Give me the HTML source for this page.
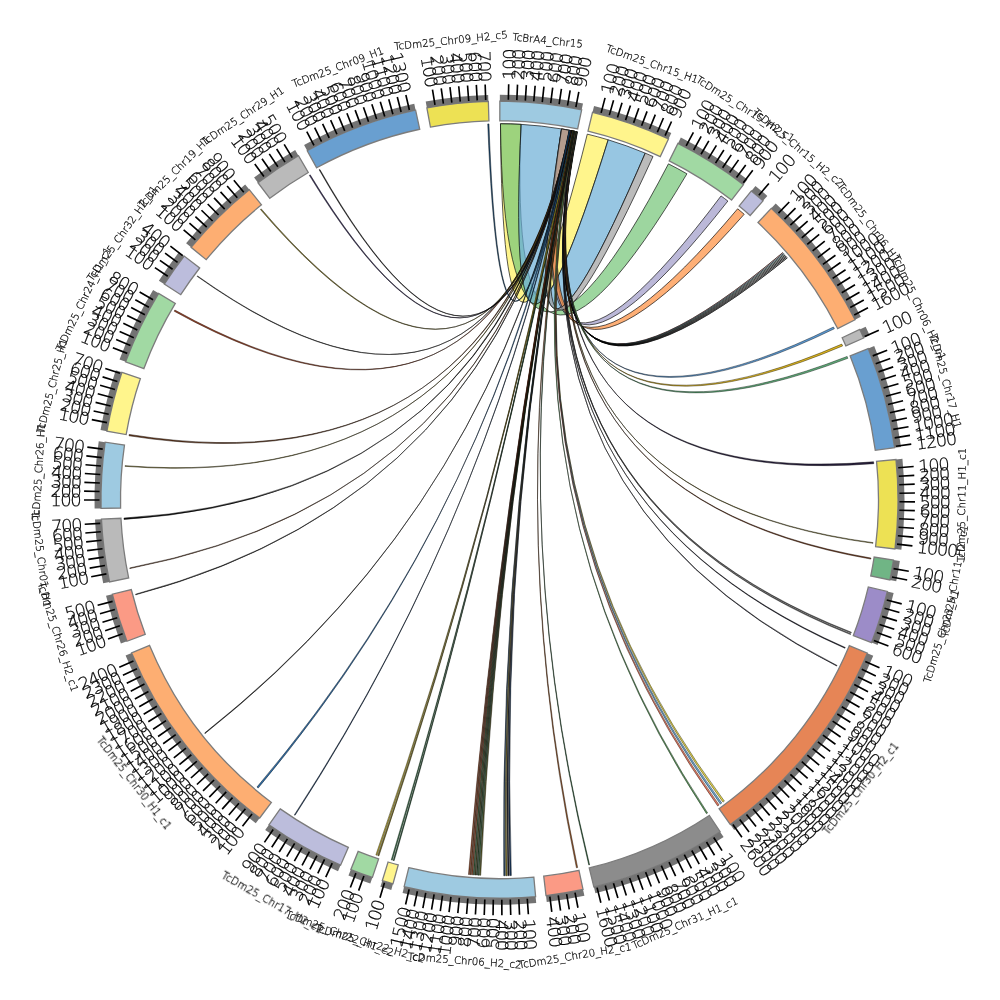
<!DOCTYPE html>
<html lang="en"><head><meta charset="utf-8"><title>Circos synteny plot</title>
<style>html,body{margin:0;padding:0;background:#fff}svg{display:block}g.t{opacity:.999;will-change:opacity}</style></head>
<body>
<svg width="1000" height="1000" viewBox="0 0 1000 1000">
<rect width="1000" height="1000" fill="#fff"/>
<g stroke="#111" stroke-width="0.7" stroke-linejoin="round">
<path d="M500.48 123.75A376 376 0 0 1 521.14 124.37Q503.73 475.86 608.18 139.8A376 376 0 0 0 587.28 134.14Q502.39 475.63 500.48 123.75Z" fill="rgba(255,241,91,0.7)"/>
<path d="M500.48 123.75A376 376 0 0 1 521.14 124.37Q505.65 479.11 686.93 173.8A376 376 0 0 0 668.44 163.84Q504.5 478.8 500.48 123.75Z" fill="rgba(116,196,118,0.7)"/>
<path d="M521.14 124.37A376 376 0 0 1 561.56 128.91Q506.26 476.41 645.21 153.13A376 376 0 0 0 608.18 139.8Q503.73 475.86 521.14 124.37Z" fill="rgba(107,174,214,0.7)"/>
<path d="M561.56 128.91A376 376 0 0 1 569.31 130.29Q508.27 480.11 727.87 201.05A376 376 0 0 0 721.04 195.95Q507.84 479.9 561.56 128.91Z" fill="rgba(158,154,200,0.7)"/>
<path d="M561.56 128.91A376 376 0 0 1 569.31 130.29Q508.52 480.96 744.19 214.26A376 376 0 0 0 737.65 208.79Q508.12 480.75 561.56 128.91Z" fill="rgba(253,141,60,0.7)"/>
<path d="M561.56 128.91A376 376 0 0 1 569.31 130.29Q506.76 476.58 653.03 156.52A376 376 0 0 0 645.21 153.13Q506.26 476.41 561.56 128.91Z" fill="rgba(158,158,158,0.7)"/>
</g>
<g stroke-width="0.5" stroke-linejoin="round">
<path d="M576.84 131.79A376 376 0 0 1 577.48 131.93Q509.32 483.04 782.9 252.65A376 376 0 0 0 782.78 252.5Q509.29 483.04 576.84 131.79Z" fill="#c0573a" stroke="#220f0a"/>
<path d="M576.7 131.76A376 376 0 0 1 577.34 131.9Q509.32 483.09 783.66 253.52A376 376 0 0 0 783.53 253.37Q509.29 483.09 576.7 131.76Z" fill="#3f7fb8" stroke="#0b1621"/>
<path d="M576.55 131.73A376 376 0 0 1 577.19 131.86Q509.32 483.14 784.41 254.39A376 376 0 0 0 784.28 254.24Q509.29 483.14 576.55 131.73Z" fill="#4f8f6f" stroke="#0e1913"/>
<path d="M576.41 131.7A376 376 0 0 1 577.05 131.83Q509.32 483.19 785.16 255.26A376 376 0 0 0 785.03 255.11Q509.3 483.19 576.41 131.7Z" fill="#555" stroke="#0f0f0f"/>
<path d="M576.26 131.67A376 376 0 0 1 576.9 131.8Q509.32 483.24 785.9 256.13A376 376 0 0 0 785.77 255.98Q509.3 483.24 576.26 131.67Z" fill="#222" stroke="#060606"/>
<path d="M576.12 131.64A376 376 0 0 1 576.76 131.77Q509.32 483.29 786.64 257.01A376 376 0 0 0 786.52 256.86Q509.3 483.29 576.12 131.64Z" fill="#222" stroke="#060606"/>
<path d="M575.97 131.61A376 376 0 0 1 576.62 131.74Q509.32 483.33 787.39 257.89A376 376 0 0 0 787.26 257.74Q509.3 483.34 575.97 131.61Z" fill="#111" stroke="#030303"/>
<path d="M575.51 131.51A376 376 0 0 1 576.79 131.78Q509.48 486.7 834.37 328.76A376 376 0 0 0 833.47 327.01Q509.44 486.64 575.51 131.51Z" fill="#5b9bd5" stroke="#101b26"/>
<path d="M575.36 131.48A376 376 0 0 1 576.65 131.75Q509.43 487.43 842.59 345.92A376 376 0 0 0 841.78 344.12Q509.38 487.37 575.36 131.48Z" fill="#e0b820" stroke="#282105"/>
<path d="M575.22 131.45A376 376 0 0 1 576.5 131.72Q509.37 487.93 847.87 358.29A376 376 0 0 0 847.13 356.47Q509.33 487.87 575.22 131.45Z" fill="#5fae7a" stroke="#111f15"/>
<path d="M575.07 131.42A376 376 0 0 1 576.36 131.69Q508.39 491.79 873.76 463.65A376 376 0 0 0 873.58 461.82Q508.37 491.74 575.07 131.42Z" fill="#2a2140" stroke="#07050b"/>
<path d="M575.25 131.46A376 376 0 0 1 575.89 131.59Q507.11 494.26 872.97 543.29A376 376 0 0 0 873.05 542.64Q507.1 494.24 575.25 131.46Z" fill="#8a7d2a" stroke="#181607"/>
<path d="M574.94 131.4A376 376 0 0 1 575.91 131.6Q506.81 494.71 870.79 559.06A376 376 0 0 0 870.95 558.08Q506.8 494.69 574.94 131.4Z" fill="#7a3a1a" stroke="#150a04"/>
<path d="M574.9 131.39A376 376 0 0 1 575.67 131.55Q505.15 496.65 851.09 633.02A376 376 0 0 0 851.37 632.29Q505.14 496.64 574.9 131.39Z" fill="#777" stroke="#151515"/>
<path d="M574.75 131.36A376 376 0 0 1 575.52 131.52Q505.1 496.69 850.5 634.56A376 376 0 0 0 850.78 633.82Q505.1 496.68 574.75 131.36Z" fill="#777" stroke="#151515"/>
<path d="M574.61 131.33A376 376 0 0 1 575.38 131.49Q504.74 497.02 844.94 648.23A376 376 0 0 0 845.25 647.51Q504.73 497.01 574.61 131.33Z" fill="#223" stroke="#060609"/>
<path d="M574.53 131.31A376 376 0 0 1 575.17 131.44Q504.24 497.43 836.72 666.05A376 376 0 0 0 837.01 665.46Q504.24 497.42 574.53 131.31Z" fill="#223" stroke="#060609"/>
<path d="M574.06 131.22A376 376 0 0 1 575.35 131.48Q499.5 499.75 723 802.12A376 376 0 0 0 724.36 801.1Q499.5 499.75 574.06 131.22Z" fill="#e8d84a" stroke="#29260d"/>
<path d="M573.92 131.19A376 376 0 0 1 575.2 131.45Q499.5 499.75 720.35 804.06A376 376 0 0 0 721.73 803.05Q499.5 499.75 573.92 131.19Z" fill="#6aaad8" stroke="#131e26"/>
<path d="M573.77 131.16A376 376 0 0 1 575.06 131.42Q499.5 499.75 717.68 805.97A376 376 0 0 0 719.07 804.98Q499.5 499.75 573.77 131.16Z" fill="#e87a60" stroke="#291511"/>
<path d="M573.63 131.13A376 376 0 0 1 574.91 131.39Q499.5 499.75 706.48 813.65A376 376 0 0 0 707.58 812.93Q499.5 499.75 573.63 131.13Z" fill="#5fa060" stroke="#111c11"/>
<path d="M573.74 131.15A376 376 0 0 1 574.51 131.31Q499.5 499.75 588.81 864.99A376 376 0 0 0 589.57 864.8Q499.5 499.75 573.74 131.15Z" fill="#2f6f3f" stroke="#08130b"/>
<path d="M573.4 131.08A376 376 0 0 1 574.56 131.32Q499.5 499.75 576.45 867.79A376 376 0 0 0 577.61 867.55Q499.5 499.75 573.4 131.08Z" fill="#a05a2a" stroke="#1c1007"/>
<path d="M573.19 131.04A376 376 0 0 1 574.48 131.3Q499.5 499.75 510 875.6A376 376 0 0 0 511.31 875.56Q499.5 499.75 573.19 131.04Z" fill="#1f3f66" stroke="#050b12"/>
<path d="M573.05 131.01A376 376 0 0 1 574.33 131.27Q499.5 499.75 507.92 875.66A376 376 0 0 0 509.23 875.62Q499.5 499.75 573.05 131.01Z" fill="#223" stroke="#060609"/>
<path d="M572.9 130.98A376 376 0 0 1 574.19 131.24Q499.5 499.75 505.84 875.7A376 376 0 0 0 507.16 875.67Q499.5 499.75 572.9 130.98Z" fill="#8a7d2a" stroke="#181607"/>
<path d="M572.76 130.96A376 376 0 0 1 574.04 131.21Q499.5 499.75 503.77 875.73A376 376 0 0 0 505.08 875.71Q499.5 499.75 572.76 130.96Z" fill="#2f4f6f" stroke="#080e13"/>
<path d="M572.74 130.95A376 376 0 0 1 573.77 131.16Q499.5 499.75 479.63 875.22A376 376 0 0 0 480.67 875.28Q499.5 499.75 572.74 130.95Z" fill="#6b6b2a" stroke="#131307"/>
<path d="M572.6 130.92A376 376 0 0 1 573.63 131.13Q499.5 499.75 478.03 875.14A376 376 0 0 0 479.08 875.2Q499.5 499.75 572.6 130.92Z" fill="#3f6f3f" stroke="#0b130b"/>
<path d="M572.45 130.89A376 376 0 0 1 573.48 131.1Q499.5 499.75 476.44 875.04A376 376 0 0 0 477.49 875.11Q499.5 499.75 572.45 130.89Z" fill="#2f4f2f" stroke="#080e08"/>
<path d="M572.31 130.87A376 376 0 0 1 573.34 131.07Q499.5 499.75 474.85 874.94A376 376 0 0 0 475.9 875.01Q499.5 499.75 572.31 130.87Z" fill="#55552a" stroke="#0f0f07"/>
<path d="M572.16 130.84A376 376 0 0 1 573.19 131.04Q499.5 499.75 473.26 874.83A376 376 0 0 0 474.31 874.91Q499.5 499.75 572.16 130.84Z" fill="#3f6f3f" stroke="#0b130b"/>
<path d="M572.02 130.81A376 376 0 0 1 573.05 131.01Q499.5 499.75 471.67 874.72A376 376 0 0 0 472.72 874.8Q499.5 499.75 572.02 130.81Z" fill="#a0522d" stroke="#1c0e08"/>
<path d="M571.87 130.78A376 376 0 0 1 572.9 130.98Q499.5 499.75 470.08 874.6A376 376 0 0 0 471.13 874.68Q499.5 499.75 571.87 130.78Z" fill="#8a4a2a" stroke="#180d07"/>
<path d="M571.73 130.75A376 376 0 0 1 572.76 130.96Q499.5 499.75 468.49 874.47A376 376 0 0 0 469.54 874.55Q499.5 499.75 571.73 130.75Z" fill="#a0522d" stroke="#1c0e08"/>
<path d="M571.61 130.73A376 376 0 0 1 572.58 130.92Q499.5 499.75 393.18 860.41A376 376 0 0 0 394.13 860.68Q499.5 499.75 571.61 130.73Z" fill="#2f5f3f" stroke="#08110b"/>
<path d="M571.47 130.7A376 376 0 0 1 572.44 130.89Q499.5 499.75 391.3 859.84A376 376 0 0 0 392.24 860.13Q499.5 499.75 571.47 130.7Z" fill="#3f7f4f" stroke="#0b160e"/>
<path d="M571.23 130.66A376 376 0 0 1 572.39 130.88Q499.5 499.75 377.77 855.5A376 376 0 0 0 378.89 855.88Q499.5 499.75 571.23 130.66Z" fill="#8a7d2a" stroke="#181607"/>
<path d="M571.08 130.63A376 376 0 0 1 572.24 130.85Q499.5 499.75 375.91 854.86A376 376 0 0 0 377.02 855.24Q499.5 499.75 571.08 130.63Z" fill="#c9b83c" stroke="#24210a"/>
<path d="M571.13 130.64A376 376 0 0 1 571.9 130.79Q499.5 499.75 294.39 814.88A376 376 0 0 0 295.05 815.3Q499.5 499.75 571.13 130.64Z" fill="#1f3f66" stroke="#050b12"/>
<path d="M570.73 130.56A376 376 0 0 1 572.02 130.81Q499.5 499.75 256.96 787.06A376 376 0 0 0 258.16 788.08Q499.5 499.75 570.73 130.56Z" fill="#2f6fa8" stroke="#08131e"/>
<path d="M570.91 130.59A376 376 0 0 1 571.55 130.72Q499.5 499.75 204.63 733.04A376 376 0 0 0 205.04 733.56Q499.5 499.75 570.91 130.59Z" fill="#222" stroke="#060606"/>
<path d="M570.76 130.56A376 376 0 0 1 571.41 130.69Q497.31 497.69 135.56 594.21A376 376 0 0 0 135.72 594.85Q497.31 497.7 570.76 130.56Z" fill="#222" stroke="#060606"/>
<path d="M570.62 130.54A376 376 0 0 1 571.26 130.66Q496.78 497.01 129.74 567.95A376 376 0 0 0 129.86 568.59Q496.78 497.01 570.62 130.54Z" fill="#6b3a1e" stroke="#130a05"/>
<path d="M570.15 130.45A376 376 0 0 1 571.44 130.7Q495.93 495.63 123.95 518.12A376 376 0 0 0 124.02 519.43Q495.92 495.64 570.15 130.45Z" fill="#111" stroke="#030303"/>
<path d="M570.33 130.48A376 376 0 0 1 570.97 130.61Q495.22 494.05 125.05 465.67A376 376 0 0 0 124.99 466.33Q495.21 494.06 570.33 130.48Z" fill="#8a7d2a" stroke="#181607"/>
<path d="M569.86 130.39A376 376 0 0 1 571.15 130.64Q494.9 493.05 129.21 434.46A376 376 0 0 0 128.99 435.75Q494.87 493.07 569.86 130.39Z" fill="#6b3a1e" stroke="#130a05"/>
<path d="M569.71 130.36A376 376 0 0 1 571 130.61Q494.4 488.49 174.86 310.05A376 376 0 0 0 174.2 311.18Q494.36 488.51 569.71 130.36Z" fill="#a0472a" stroke="#1c0c07"/>
<path d="M569.89 130.4A376 376 0 0 1 570.54 130.52Q494.54 487.01 197.41 275.89A376 376 0 0 0 197.09 276.31Q494.52 487.02 569.89 130.4Z" fill="#222" stroke="#060606"/>
<path d="M569.58 130.34A376 376 0 0 1 570.55 130.52Q495.42 483.64 261.22 208.89A376 376 0 0 0 260.46 209.51Q495.38 483.66 569.58 130.34Z" fill="#8a7d2a" stroke="#181607"/>
<path d="M569.44 130.31A376 376 0 0 1 570.41 130.5Q496.39 481.5 310.22 174.87A376 376 0 0 0 309.37 175.36Q496.34 481.51 569.44 130.31Z" fill="#3b3160" stroke="#0a0811"/>
<path d="M569.39 130.3A376 376 0 0 1 570.16 130.45Q496.6 481.1 319.86 169.44A376 376 0 0 0 319.17 169.82Q496.56 481.11 569.39 130.3Z" fill="#222" stroke="#060606"/>
<path d="M569.05 130.24A376 376 0 0 1 570.21 130.46Q501.47 475.35 488.94 123.9A376 376 0 0 0 487.76 123.93Q501.39 475.34 569.05 130.24Z" fill="#1f4e79" stroke="#050e15"/>
</g>
<g stroke="#7c7c7c" stroke-width="1.3" stroke-linejoin="miter">
<path d="M499.85 101.25A398.5 398.5 0 0 1 581.67 109.81L577.65 128.9A379 379 0 0 0 499.83 120.75Z" fill="#9ecae1"/>
<path d="M592.53 112.26A398.5 398.5 0 0 1 668.54 138.88L660.27 156.54A379 379 0 0 0 587.98 131.22Z" fill="#fff58c"/>
<path d="M677.93 143.43A398.5 398.5 0 0 1 743.47 184.66L731.53 200.08A379 379 0 0 0 669.2 160.87Z" fill="#a1d9a3"/>
<path d="M751.36 190.93A398.5 398.5 0 0 1 763.03 200.83L750.14 215.46A379 379 0 0 0 739.04 206.05Z" fill="#bcbddc"/>
<path d="M771.28 208.31A398.5 398.5 0 0 1 855.04 319.76L837.64 328.57A379 379 0 0 0 757.98 222.57Z" fill="#fdae72"/>
<path d="M859.78 329.45A398.5 398.5 0 0 1 863.69 337.98L845.87 345.9A379 379 0 0 0 842.15 337.78Z" fill="#bababa"/>
<path d="M868.2 348.54A398.5 398.5 0 0 1 894.59 447.74L875.26 450.28A379 379 0 0 0 850.15 355.94Z" fill="#699fd0"/>
<path d="M895.96 459.48A398.5 398.5 0 0 1 894.94 549.01L875.59 546.59A379 379 0 0 0 876.56 461.45Z" fill="#ede154"/>
<path d="M893.41 560.03A398.5 398.5 0 0 1 889.86 579.88L870.76 575.96A379 379 0 0 0 874.14 557.08Z" fill="#70b585"/>
<path d="M887.31 591.42A398.5 398.5 0 0 1 871.53 642.56L853.33 635.57A379 379 0 0 0 868.33 586.94Z" fill="#9c8cc8"/>
<path d="M867.27 653.21A398.5 398.5 0 0 1 730.34 824.58L719.05 808.68A379 379 0 0 0 849.27 645.7Z" fill="#e68556"/>
<path d="M720.03 831.67A398.5 398.5 0 0 1 593.88 886.91L589.26 867.97A379 379 0 0 0 709.24 815.43Z" fill="#8c8c8c"/>
<path d="M583.03 889.4A398.5 398.5 0 0 1 545.99 895.53L543.72 876.16A379 379 0 0 0 578.95 870.33Z" fill="#fb9a85"/>
<path d="M535.62 896.61A398.5 398.5 0 0 1 404.11 886.66L408.77 867.73A379 379 0 0 0 533.85 877.19Z" fill="#9ecae1"/>
<path d="M393.01 883.76A398.5 398.5 0 0 1 382.32 880.63L388.06 862A379 379 0 0 0 398.22 864.97Z" fill="#fff58c"/>
<path d="M372.39 877.44A398.5 398.5 0 0 1 350.86 869.49L358.14 851.4A379 379 0 0 0 378.61 858.95Z" fill="#a1d9a3"/>
<path d="M340.6 865.2A398.5 398.5 0 0 1 268.94 824.78L280.22 808.87A379 379 0 0 0 348.37 847.32Z" fill="#bcbddc"/>
<path d="M259.68 818.01A398.5 398.5 0 0 1 131.6 652.89L149.6 645.4A379 379 0 0 0 271.41 802.43Z" fill="#fdae72"/>
<path d="M126.97 641.26A398.5 398.5 0 0 1 112.34 594.13L131.28 589.51A379 379 0 0 0 145.2 634.34Z" fill="#fb9a85"/>
<path d="M109.56 581.92A398.5 398.5 0 0 1 101.48 519.22L120.95 518.26A379 379 0 0 0 128.65 577.9Z" fill="#bababa"/>
<path d="M101.09 508.44A398.5 398.5 0 0 1 105.17 442.22L124.47 445.04A379 379 0 0 0 120.59 508.02Z" fill="#9ecae1"/>
<path d="M106.93 431.24A398.5 398.5 0 0 1 121.93 372.32L140.4 378.55A379 379 0 0 0 126.14 434.59Z" fill="#fff58c"/>
<path d="M125.63 361.82A398.5 398.5 0 0 1 158.64 293.32L175.32 303.42A379 379 0 0 0 143.93 368.57Z" fill="#a1d9a3"/>
<path d="M164.35 284.17A398.5 398.5 0 0 1 184.2 256.06L199.63 267.98A379 379 0 0 0 180.75 294.72Z" fill="#bcbddc"/>
<path d="M191.12 247.35A398.5 398.5 0 0 1 249.26 189.62L261.5 204.8A379 379 0 0 0 206.21 259.7Z" fill="#fdae72"/>
<path d="M258.01 182.75A398.5 398.5 0 0 1 298.45 155.69L308.28 172.52A379 379 0 0 0 269.83 198.27Z" fill="#bababa"/>
<path d="M307.22 150.71A398.5 398.5 0 0 1 415.63 110.18L419.73 129.24A379 379 0 0 0 316.63 167.79Z" fill="#699fd0"/>
<path d="M426.88 107.92A398.5 398.5 0 0 1 488.37 101.41L488.92 120.9A379 379 0 0 0 430.43 127.1Z" fill="#ede154"/>
</g>
<g fill="#737373">
<path d="M499.85 94.75A405 405 0 0 1 583.01 103.45L581.67 109.81A398.5 398.5 0 0 0 499.85 101.25Z"/>
<path d="M594.05 105.94A405 405 0 0 1 671.3 132.99L668.54 138.88A398.5 398.5 0 0 0 592.53 112.26Z"/>
<path d="M680.84 137.62A405 405 0 0 1 747.45 179.52L743.47 184.66A398.5 398.5 0 0 0 677.93 143.43Z"/>
<path d="M755.47 185.9A405 405 0 0 1 767.33 195.96L763.03 200.83A398.5 398.5 0 0 0 751.36 190.93Z"/>
<path d="M775.71 203.55A405 405 0 0 1 860.84 316.83L855.04 319.76A398.5 398.5 0 0 0 771.28 208.31Z"/>
<path d="M865.65 326.67A405 405 0 0 1 869.63 335.34L863.69 337.98A398.5 398.5 0 0 0 859.78 329.45Z"/>
<path d="M874.21 346.07A405 405 0 0 1 901.04 446.89L894.59 447.74A398.5 398.5 0 0 0 868.2 348.54Z"/>
<path d="M902.43 458.82A405 405 0 0 1 901.39 549.81L894.94 549.01A398.5 398.5 0 0 0 895.96 459.48Z"/>
<path d="M899.84 561.01A405 405 0 0 1 896.23 581.19L889.86 579.88A398.5 398.5 0 0 0 893.41 560.03Z"/>
<path d="M893.64 592.92A405 405 0 0 1 877.6 644.89L871.53 642.56A398.5 398.5 0 0 0 887.31 591.42Z"/>
<path d="M873.26 655.72A405 405 0 0 1 734.11 829.88L730.34 824.58A398.5 398.5 0 0 0 867.27 653.21Z"/>
<path d="M723.62 837.08A405 405 0 0 1 595.42 893.23L593.88 886.91A398.5 398.5 0 0 0 720.03 831.67Z"/>
<path d="M584.4 895.75A405 405 0 0 1 546.75 901.98L545.99 895.53A398.5 398.5 0 0 0 583.03 889.4Z"/>
<path d="M536.21 903.08A405 405 0 0 1 402.55 892.97L404.11 886.66A398.5 398.5 0 0 0 535.62 896.61Z"/>
<path d="M391.27 890.02A405 405 0 0 1 380.41 886.85L382.32 880.63A398.5 398.5 0 0 0 393.01 883.76Z"/>
<path d="M370.32 883.6A405 405 0 0 1 348.44 875.52L350.86 869.49A398.5 398.5 0 0 0 372.39 877.44Z"/>
<path d="M338.01 871.16A405 405 0 0 1 265.18 830.08L268.94 824.78A398.5 398.5 0 0 0 340.6 865.2Z"/>
<path d="M255.76 823.2A405 405 0 0 1 125.6 655.39L131.6 652.89A398.5 398.5 0 0 0 259.68 818.01Z"/>
<path d="M120.9 643.57A405 405 0 0 1 106.02 595.67L112.34 594.13A398.5 398.5 0 0 0 126.97 641.26Z"/>
<path d="M103.2 583.26A405 405 0 0 1 94.98 519.53L101.48 519.22A398.5 398.5 0 0 0 109.56 581.92Z"/>
<path d="M94.6 508.59A405 405 0 0 1 98.74 441.29L105.17 442.22A398.5 398.5 0 0 0 101.09 508.44Z"/>
<path d="M100.53 430.12A405 405 0 0 1 115.77 370.24L121.93 372.32A398.5 398.5 0 0 0 106.93 431.24Z"/>
<path d="M119.53 359.57A405 405 0 0 1 153.08 289.95L158.64 293.32A398.5 398.5 0 0 0 125.63 361.82Z"/>
<path d="M158.88 280.66A405 405 0 0 1 179.05 252.08L184.2 256.06A398.5 398.5 0 0 0 164.35 284.17Z"/>
<path d="M186.09 243.23A405 405 0 0 1 245.17 184.56L249.26 189.62A398.5 398.5 0 0 0 191.12 247.35Z"/>
<path d="M254.07 177.58A405 405 0 0 1 295.17 150.07L298.45 155.69A398.5 398.5 0 0 0 258.01 182.75Z"/>
<path d="M304.08 145.02A405 405 0 0 1 414.26 103.82L415.63 110.18A398.5 398.5 0 0 0 307.22 150.71Z"/>
<path d="M425.69 101.53A405 405 0 0 1 488.19 94.91L488.37 101.41A398.5 398.5 0 0 0 426.88 107.92Z"/>
</g>
<path d="M508.35 99.85L508.69 84.35M516.84 100.13L517.52 84.64M525.33 100.58L526.33 85.12M533.81 101.22L535.14 85.78M542.27 102.04L543.92 86.63M550.71 103.04L552.69 87.67M559.12 104.22L561.43 88.89M567.52 105.57L570.15 90.3M575.87 107.11L578.83 91.89M601.12 112.87L605.06 97.88M609.32 115.12L613.57 100.22M617.47 117.54L622.04 102.73M625.56 120.13L630.45 105.42M633.6 122.9L638.79 108.29M641.58 125.83L647.08 111.34M649.49 128.94L655.3 114.57M657.33 132.21L663.45 117.96M665.11 135.64L671.52 121.53M686.16 145.97L693.4 132.27M693.64 150.02L701.16 136.47M701.02 154.22L708.83 140.84M708.32 158.58L716.41 145.36M715.52 163.1L723.89 150.05M722.63 167.76L731.27 154.9M729.63 172.58L738.55 159.9M736.53 177.54L745.72 165.06M743.32 182.65L752.77 170.37M758.84 195.21L768.89 183.41M778.45 213.07L789.26 201.96M784.48 219.06L795.52 208.19M790.38 225.18L801.65 214.54M796.15 231.42L807.65 221.03M801.78 237.79L813.5 227.64M807.28 244.27L819.21 234.37M812.64 250.87L824.78 241.22M817.86 257.58L830.19 248.19M822.93 264.4L835.47 255.28M827.86 271.32L840.58 262.47M832.64 278.35L845.55 269.77M837.27 285.48L850.36 277.18M841.75 292.7L855.01 284.68M846.07 300.02L859.5 292.28M850.23 307.43L863.82 299.98M854.24 314.93L867.99 307.76M864.68 336.53L878.83 330.2M872.73 355.87L887.19 350.29M875.7 363.83L890.28 358.56M878.5 371.85L893.19 366.9M881.13 379.93L895.92 375.29M883.59 388.07L898.48 383.74M885.88 396.26L900.85 392.25M887.99 404.49L903.05 400.8M889.93 412.77L905.06 409.39M891.69 421.08L906.88 418.03M893.27 429.43L908.53 426.71M894.68 437.81L909.99 435.41M895.9 446.22L911.26 444.15M898.22 467.79L913.67 466.55M898.81 476.27L914.28 475.36M899.22 484.76L914.71 484.18M899.45 493.26L914.95 493.01M899.49 501.76L914.99 501.83M899.36 510.26L914.86 510.66M899.05 518.75L914.53 519.49M898.55 527.23L914.02 528.3M897.88 535.71L913.32 537.1M897.03 544.16L912.43 545.89M893.52 568.64L908.79 571.31M891.97 577L907.18 579.99M886.73 600.02L901.73 603.91M884.51 608.23L899.43 612.43M882.12 616.38L896.95 620.9M879.55 624.48L894.28 629.32M876.82 632.53L891.44 637.68M873.91 640.52L888.42 645.97M865.29 661.6L879.47 667.87M861.77 669.33L875.81 675.91M858.09 676.99L871.98 683.86M854.24 684.57L867.99 691.74M850.23 692.07L863.82 699.52M846.07 699.48L859.5 707.22M841.75 706.8L855.01 714.82M837.27 714.02L850.36 722.32M832.64 721.15L845.55 729.73M827.86 728.18L840.58 737.03M822.93 735.1L835.47 744.22M817.86 741.92L830.19 751.31M812.64 748.63L824.78 758.28M807.28 755.23L819.21 765.13M801.78 761.71L813.5 771.86M796.15 768.08L807.65 778.47M790.38 774.32L801.65 784.96M784.48 780.44L795.52 791.31M778.45 786.43L789.26 797.54M772.3 792.29L782.87 803.63M766.02 798.02L776.35 809.58M759.62 803.62L769.7 815.39M753.11 809.08L762.94 821.06M746.48 814.39L756.05 826.59M739.74 819.57L749.05 831.96M732.89 824.6L741.93 837.19M713.73 837.55L722.03 850.64M706.5 842.02L714.52 855.29M699.18 846.34L706.92 859.77M691.77 850.51L699.22 864.1M684.28 854.51L691.44 868.26M676.7 858.36L683.56 872.26M669.04 862.04L675.61 876.08M661.3 865.56L667.57 879.74M653.49 868.92L659.46 883.23M645.61 872.11L651.28 886.54M637.67 875.13L643.02 889.68M629.66 877.98L634.7 892.64M621.6 880.66L626.33 895.42M613.47 883.17L617.89 898.03M605.3 885.5L609.4 900.45M597.08 887.66L600.86 902.7M575.02 892.56L577.94 907.78M566.65 894.07L569.26 909.35M558.26 895.41L560.54 910.74M549.84 896.57L551.79 911.95M527.28 898.78L528.36 914.25M518.8 899.28L519.54 914.77M510.3 899.6L510.72 915.1M501.8 899.74L501.89 915.24M493.3 899.7L493.06 915.2M484.81 899.48L484.24 914.97M476.32 899.08L475.42 914.55M467.84 898.49L466.61 913.95M459.37 897.73L457.82 913.15M450.93 896.79L449.04 912.17M442.5 895.67L440.29 911.01M434.1 894.37L431.57 909.66M425.73 892.89L422.87 908.12M417.39 891.23L414.21 906.4M409.09 889.4L405.59 904.5M384.44 882.84L379.98 897.69M363.89 876.06L358.63 890.64M355.92 873.09L350.36 887.56M332.24 863.1L325.76 877.18M324.56 859.47L317.78 873.41M316.96 855.67L309.88 869.46M309.43 851.71L302.07 865.35M302 847.59L294.35 861.07M294.65 843.32L286.72 856.63M287.4 838.89L279.18 852.03M280.24 834.3L271.74 847.27M273.18 829.57L264.41 842.35M252.04 814.02L242.45 826.2M245.42 808.69L235.57 820.66M238.91 803.22L228.81 814.98M232.52 797.61L222.18 809.16M226.25 791.87L215.67 803.19M220.11 786L209.28 797.1M214.09 780L203.03 790.86M208.2 773.87L196.91 784.5M202.44 767.62L190.93 778M196.82 761.25L185.09 771.38M191.33 754.76L179.39 764.64M185.98 748.15L173.83 757.78M180.77 741.44L168.42 750.8M175.71 734.61L163.16 743.71M170.79 727.68L158.05 736.51M166.02 720.64L153.1 729.2M161.4 713.51L148.3 721.79M156.94 706.27L143.66 714.28M152.63 698.95L139.19 706.67M148.47 691.53L134.87 698.96M144.48 684.03L130.72 691.17M140.64 676.45L126.74 683.29M136.97 668.78L122.92 675.33M133.46 661.04L119.28 667.29M122.64 633.82L108.03 639.01M119.87 625.78L105.16 630.66M117.28 617.68L102.47 622.25M114.86 609.54L99.96 613.79M112.62 601.34L97.62 605.27M106.43 573.9L91.2 576.77M104.95 565.53L89.66 568.08M103.64 557.13L88.3 559.35M102.51 548.71L87.12 550.6M101.56 540.26L86.14 541.83M100.79 531.79L85.34 533.04M100.19 523.32L84.72 524.23M99.5 499.98L84 499.99M99.59 491.48L84.09 491.16M99.85 482.98L84.37 482.33M100.3 474.49L84.83 473.52M100.92 466.02L85.48 464.71M101.73 457.56L86.32 455.92M102.72 449.11L87.34 447.15M107.01 422.62L91.8 419.63M108.73 414.3L93.59 410.99M110.64 406.02L95.57 402.38M112.72 397.77L97.73 393.82M114.97 389.58L100.07 385.31M117.4 381.43L102.59 376.85M120 373.34L105.29 368.44M127.25 353.36L112.83 347.69M130.44 345.48L116.14 339.51M133.81 337.68L119.63 331.4M137.33 329.94L123.3 323.36M141.02 322.29L127.13 315.41M144.87 314.71L131.13 307.54M148.88 307.22L135.3 299.76M153.05 299.81L139.63 292.06M167.76 276.26L154.9 267.6M172.58 269.26L159.91 260.33M177.55 262.37L165.08 253.17M182.67 255.58L170.39 246.12M195.42 239.88L183.63 229.81M201.01 233.48L189.44 223.16M206.73 227.19L195.39 216.63M212.59 221.03L201.47 210.23M218.58 215L207.69 203.97M224.69 209.1L214.04 197.83M230.93 203.32L220.52 191.84M237.29 197.68L227.13 185.98M243.76 192.18L233.85 180.26M263.92 176.48L254.79 163.96M270.84 171.55L261.98 158.83M277.87 166.77L269.28 153.86M284.99 162.13L276.68 149.05M292.21 157.65L284.18 144.39M313.98 145.37L306.79 131.64M321.55 141.51L314.66 127.63M329.2 137.81L322.61 123.79M336.93 134.28L330.63 120.11M344.74 130.9L338.74 116.61M352.61 127.7L346.92 113.28M360.55 124.66L355.16 110.13M368.55 121.79L363.47 107.15M376.61 119.1L371.85 104.35M384.72 116.57L380.28 101.72M392.89 114.22L388.76 99.28M401.11 112.04L397.29 97.02M409.37 110.04L405.87 94.94M434.98 104.99L432.48 89.69M443.38 103.71L441.21 88.36M451.81 102.6L449.96 87.21M460.26 101.68L458.74 86.25M468.73 100.94L467.53 85.48M477.21 100.37L476.34 84.9M485.7 99.99L485.16 84.5" stroke="#000" stroke-width="1.65" fill="none"/>
<g class="t" font-family="'DejaVu Sans Light','DejaVu Sans','Liberation Sans',sans-serif" font-weight="200" font-size="17.2" letter-spacing="-1.368" fill="#000" stroke="#000" stroke-width="0.2">
<text transform="translate(508.79 79.85) rotate(-88.73) scale(1.05 1)" x="0" y="6.28">100</text>
<text transform="translate(517.71 80.14) rotate(-87.52) scale(1.05 1)" x="0" y="6.28">200</text>
<text transform="translate(526.62 80.63) rotate(-86.3) scale(1.05 1)" x="0" y="6.28">300</text>
<text transform="translate(535.52 81.3) rotate(-85.08) scale(1.05 1)" x="0" y="6.28">400</text>
<text transform="translate(544.4 82.16) rotate(-83.86) scale(1.05 1)" x="0" y="6.28">500</text>
<text transform="translate(553.27 83.21) rotate(-82.64) scale(1.05 1)" x="0" y="6.28">600</text>
<text transform="translate(562.11 84.44) rotate(-81.43) scale(1.05 1)" x="0" y="6.28">700</text>
<text transform="translate(570.92 85.87) rotate(-80.21) scale(1.05 1)" x="0" y="6.28">800</text>
<text transform="translate(579.69 87.48) rotate(-78.99) scale(1.05 1)" x="0" y="6.28">900</text>
<text transform="translate(606.2 93.53) rotate(-75.28) scale(1.05 1)" x="0" y="6.28">100</text>
<text transform="translate(614.81 95.89) rotate(-74.06) scale(1.05 1)" x="0" y="6.28">200</text>
<text transform="translate(623.36 98.43) rotate(-72.85) scale(1.05 1)" x="0" y="6.28">300</text>
<text transform="translate(631.86 101.15) rotate(-71.63) scale(1.05 1)" x="0" y="6.28">400</text>
<text transform="translate(640.3 104.06) rotate(-70.41) scale(1.05 1)" x="0" y="6.28">500</text>
<text transform="translate(648.68 107.14) rotate(-69.19) scale(1.05 1)" x="0" y="6.28">600</text>
<text transform="translate(656.99 110.39) rotate(-67.98) scale(1.05 1)" x="0" y="6.28">700</text>
<text transform="translate(665.23 113.83) rotate(-66.76) scale(1.05 1)" x="0" y="6.28">800</text>
<text transform="translate(673.39 117.44) rotate(-65.54) scale(1.05 1)" x="0" y="6.28">900</text>
<text transform="translate(695.5 128.29) rotate(-62.18) scale(1.05 1)" x="0" y="6.28">100</text>
<text transform="translate(703.34 132.53) rotate(-60.97) scale(1.05 1)" x="0" y="6.28">200</text>
<text transform="translate(711.1 136.95) rotate(-59.75) scale(1.05 1)" x="0" y="6.28">300</text>
<text transform="translate(718.76 141.53) rotate(-58.53) scale(1.05 1)" x="0" y="6.28">400</text>
<text transform="translate(726.32 146.27) rotate(-57.31) scale(1.05 1)" x="0" y="6.28">500</text>
<text transform="translate(733.78 151.17) rotate(-56.09) scale(1.05 1)" x="0" y="6.28">600</text>
<text transform="translate(741.14 156.22) rotate(-54.88) scale(1.05 1)" x="0" y="6.28">700</text>
<text transform="translate(748.38 161.43) rotate(-53.66) scale(1.05 1)" x="0" y="6.28">800</text>
<text transform="translate(755.51 166.8) rotate(-52.44) scale(1.05 1)" x="0" y="6.28">900</text>
<text transform="translate(771.81 179.99) rotate(-49.58) scale(1.05 1)" x="0" y="6.28">100</text>
<text transform="translate(792.4 198.74) rotate(-45.78) scale(1.05 1)" x="0" y="6.28">100</text>
<text transform="translate(798.73 205.03) rotate(-44.56) scale(1.05 1)" x="0" y="6.28">200</text>
<text transform="translate(804.93 211.45) rotate(-43.35) scale(1.05 1)" x="0" y="6.28">300</text>
<text transform="translate(810.98 218.01) rotate(-42.13) scale(1.05 1)" x="0" y="6.28">400</text>
<text transform="translate(816.9 224.69) rotate(-40.91) scale(1.05 1)" x="0" y="6.28">500</text>
<text transform="translate(822.67 231.5) rotate(-39.7) scale(1.05 1)" x="0" y="6.28">600</text>
<text transform="translate(828.3 238.42) rotate(-38.48) scale(1.05 1)" x="0" y="6.28">700</text>
<text transform="translate(833.78 245.47) rotate(-37.26) scale(1.05 1)" x="0" y="6.28">800</text>
<text transform="translate(839.1 252.63) rotate(-36.04) scale(1.05 1)" x="0" y="6.28">900</text>
<text transform="translate(844.28 259.9) rotate(-34.83) scale(1.05 1)" x="0" y="6.28">1000</text>
<text transform="translate(849.3 267.28) rotate(-33.61) scale(1.05 1)" x="0" y="6.28">1100</text>
<text transform="translate(854.16 274.76) rotate(-32.39) scale(1.05 1)" x="0" y="6.28">1200</text>
<text transform="translate(858.86 282.35) rotate(-31.17) scale(1.05 1)" x="0" y="6.28">1300</text>
<text transform="translate(863.4 290.04) rotate(-29.95) scale(1.05 1)" x="0" y="6.28">1400</text>
<text transform="translate(867.77 297.82) rotate(-28.74) scale(1.05 1)" x="0" y="6.28">1500</text>
<text transform="translate(871.98 305.69) rotate(-27.52) scale(1.05 1)" x="0" y="6.28">1600</text>
<text transform="translate(882.94 328.37) rotate(-24.08) scale(1.05 1)" x="0" y="6.28">100</text>
<text transform="translate(891.39 348.67) rotate(-21.08) scale(1.05 1)" x="0" y="6.28">100</text>
<text transform="translate(894.51 357.03) rotate(-19.86) scale(1.05 1)" x="0" y="6.28">200</text>
<text transform="translate(897.45 365.46) rotate(-18.65) scale(1.05 1)" x="0" y="6.28">300</text>
<text transform="translate(900.22 373.94) rotate(-17.43) scale(1.05 1)" x="0" y="6.28">400</text>
<text transform="translate(902.8 382.49) rotate(-16.21) scale(1.05 1)" x="0" y="6.28">500</text>
<text transform="translate(905.2 391.08) rotate(-15) scale(1.05 1)" x="0" y="6.28">600</text>
<text transform="translate(907.42 399.73) rotate(-13.78) scale(1.05 1)" x="0" y="6.28">700</text>
<text transform="translate(909.45 408.42) rotate(-12.56) scale(1.05 1)" x="0" y="6.28">800</text>
<text transform="translate(911.3 417.15) rotate(-11.34) scale(1.05 1)" x="0" y="6.28">900</text>
<text transform="translate(912.96 425.92) rotate(-10.12) scale(1.05 1)" x="0" y="6.28">1000</text>
<text transform="translate(914.43 434.72) rotate(-8.91) scale(1.05 1)" x="0" y="6.28">1100</text>
<text transform="translate(915.72 443.55) rotate(-7.69) scale(1.05 1)" x="0" y="6.28">1200</text>
<text transform="translate(918.16 466.19) rotate(-4.58) scale(1.05 1)" x="0" y="6.28">100</text>
<text transform="translate(918.78 475.1) rotate(-3.36) scale(1.05 1)" x="0" y="6.28">200</text>
<text transform="translate(919.21 484.01) rotate(-2.15) scale(1.05 1)" x="0" y="6.28">300</text>
<text transform="translate(919.44 492.93) rotate(-0.93) scale(1.05 1)" x="0" y="6.28">400</text>
<text transform="translate(919.49 501.86) rotate(0.29) scale(1.05 1)" x="0" y="6.28">500</text>
<text transform="translate(919.36 510.78) rotate(1.5) scale(1.05 1)" x="0" y="6.28">600</text>
<text transform="translate(919.03 519.7) rotate(2.72) scale(1.05 1)" x="0" y="6.28">700</text>
<text transform="translate(918.51 528.61) rotate(3.94) scale(1.05 1)" x="0" y="6.28">800</text>
<text transform="translate(917.8 537.51) rotate(5.16) scale(1.05 1)" x="0" y="6.28">900</text>
<text transform="translate(916.9 546.38) rotate(6.38) scale(1.05 1)" x="0" y="6.28">1000</text>
<text transform="translate(913.22 572.09) rotate(9.92) scale(1.05 1)" x="0" y="6.28">100</text>
<text transform="translate(911.59 580.86) rotate(11.14) scale(1.05 1)" x="0" y="6.28">200</text>
<text transform="translate(906.09 605.03) rotate(14.52) scale(1.05 1)" x="0" y="6.28">100</text>
<text transform="translate(903.76 613.65) rotate(15.73) scale(1.05 1)" x="0" y="6.28">200</text>
<text transform="translate(901.25 622.21) rotate(16.95) scale(1.05 1)" x="0" y="6.28">300</text>
<text transform="translate(898.56 630.72) rotate(18.17) scale(1.05 1)" x="0" y="6.28">400</text>
<text transform="translate(895.68 639.17) rotate(19.39) scale(1.05 1)" x="0" y="6.28">500</text>
<text transform="translate(892.63 647.56) rotate(20.6) scale(1.05 1)" x="0" y="6.28">600</text>
<text transform="translate(883.58 669.69) rotate(23.87) scale(1.05 1)" x="0" y="6.28">100</text>
<text transform="translate(879.89 677.81) rotate(25.09) scale(1.05 1)" x="0" y="6.28">200</text>
<text transform="translate(876.02 685.86) rotate(26.3) scale(1.05 1)" x="0" y="6.28">300</text>
<text transform="translate(871.98 693.81) rotate(27.52) scale(1.05 1)" x="0" y="6.28">400</text>
<text transform="translate(867.77 701.68) rotate(28.74) scale(1.05 1)" x="0" y="6.28">500</text>
<text transform="translate(863.4 709.46) rotate(29.96) scale(1.05 1)" x="0" y="6.28">600</text>
<text transform="translate(858.86 717.15) rotate(31.17) scale(1.05 1)" x="0" y="6.28">700</text>
<text transform="translate(854.16 724.74) rotate(32.39) scale(1.05 1)" x="0" y="6.28">800</text>
<text transform="translate(849.3 732.22) rotate(33.61) scale(1.05 1)" x="0" y="6.28">900</text>
<text transform="translate(844.28 739.6) rotate(34.83) scale(1.05 1)" x="0" y="6.28">1000</text>
<text transform="translate(839.1 746.87) rotate(36.04) scale(1.05 1)" x="0" y="6.28">1100</text>
<text transform="translate(833.78 754.03) rotate(37.26) scale(1.05 1)" x="0" y="6.28">1200</text>
<text transform="translate(828.3 761.08) rotate(38.48) scale(1.05 1)" x="0" y="6.28">1300</text>
<text transform="translate(822.67 768) rotate(39.69) scale(1.05 1)" x="0" y="6.28">1400</text>
<text transform="translate(816.9 774.81) rotate(40.91) scale(1.05 1)" x="0" y="6.28">1500</text>
<text transform="translate(810.98 781.49) rotate(42.13) scale(1.05 1)" x="0" y="6.28">1600</text>
<text transform="translate(804.93 788.05) rotate(43.35) scale(1.05 1)" x="0" y="6.28">1700</text>
<text transform="translate(798.73 794.47) rotate(44.56) scale(1.05 1)" x="0" y="6.28">1800</text>
<text transform="translate(792.4 800.76) rotate(45.78) scale(1.05 1)" x="0" y="6.28">1900</text>
<text transform="translate(785.94 806.92) rotate(47) scale(1.05 1)" x="0" y="6.28">2000</text>
<text transform="translate(779.35 812.94) rotate(48.22) scale(1.05 1)" x="0" y="6.28">2100</text>
<text transform="translate(772.63 818.81) rotate(49.44) scale(1.05 1)" x="0" y="6.28">2200</text>
<text transform="translate(765.79 824.54) rotate(50.65) scale(1.05 1)" x="0" y="6.28">2300</text>
<text transform="translate(758.83 830.13) rotate(51.87) scale(1.05 1)" x="0" y="6.28">2400</text>
<text transform="translate(751.75 835.56) rotate(53.09) scale(1.05 1)" x="0" y="6.28">2500</text>
<text transform="translate(744.56 840.85) rotate(54.31) scale(1.05 1)" x="0" y="6.28">2600</text>
<text transform="translate(724.44 854.44) rotate(57.62) scale(1.05 1)" x="0" y="6.28">100</text>
<text transform="translate(716.85 859.14) rotate(58.84) scale(1.05 1)" x="0" y="6.28">200</text>
<text transform="translate(709.17 863.67) rotate(60.05) scale(1.05 1)" x="0" y="6.28">300</text>
<text transform="translate(701.39 868.05) rotate(61.27) scale(1.05 1)" x="0" y="6.28">400</text>
<text transform="translate(693.52 872.25) rotate(62.49) scale(1.05 1)" x="0" y="6.28">500</text>
<text transform="translate(685.56 876.29) rotate(63.71) scale(1.05 1)" x="0" y="6.28">600</text>
<text transform="translate(677.51 880.16) rotate(64.92) scale(1.05 1)" x="0" y="6.28">700</text>
<text transform="translate(669.39 883.86) rotate(66.14) scale(1.05 1)" x="0" y="6.28">800</text>
<text transform="translate(661.19 887.38) rotate(67.36) scale(1.05 1)" x="0" y="6.28">900</text>
<text transform="translate(652.92 890.73) rotate(68.58) scale(1.05 1)" x="0" y="6.28">1000</text>
<text transform="translate(644.58 893.9) rotate(69.79) scale(1.05 1)" x="0" y="6.28">1100</text>
<text transform="translate(636.17 896.89) rotate(71.01) scale(1.05 1)" x="0" y="6.28">1200</text>
<text transform="translate(627.7 899.71) rotate(72.23) scale(1.05 1)" x="0" y="6.28">1300</text>
<text transform="translate(619.17 902.34) rotate(73.44) scale(1.05 1)" x="0" y="6.28">1400</text>
<text transform="translate(610.59 904.79) rotate(74.66) scale(1.05 1)" x="0" y="6.28">1500</text>
<text transform="translate(601.96 907.06) rotate(75.88) scale(1.05 1)" x="0" y="6.28">1600</text>
<text transform="translate(578.79 912.2) rotate(79.12) scale(1.05 1)" x="0" y="6.28">100</text>
<text transform="translate(570.01 913.79) rotate(80.34) scale(1.05 1)" x="0" y="6.28">200</text>
<text transform="translate(561.2 915.19) rotate(81.55) scale(1.05 1)" x="0" y="6.28">300</text>
<text transform="translate(552.36 916.41) rotate(82.77) scale(1.05 1)" x="0" y="6.28">400</text>
<text transform="translate(528.67 918.74) rotate(86.02) scale(1.05 1)" x="0" y="6.28">100</text>
<text transform="translate(519.76 919.26) rotate(87.24) scale(1.05 1)" x="0" y="6.28">200</text>
<text transform="translate(510.84 919.6) rotate(88.45) scale(1.05 1)" x="0" y="6.28">300</text>
<text transform="translate(501.92 919.74) rotate(89.67) scale(1.05 1)" x="0" y="6.28">400</text>
<text transform="translate(492.99 919.7) rotate(270.89) scale(1.05 1)" x="-27.86" y="6.28">500</text>
<text transform="translate(484.07 919.47) rotate(272.11) scale(1.05 1)" x="-27.86" y="6.28">600</text>
<text transform="translate(475.16 919.04) rotate(273.32) scale(1.05 1)" x="-27.86" y="6.28">700</text>
<text transform="translate(466.25 918.43) rotate(274.54) scale(1.05 1)" x="-27.86" y="6.28">800</text>
<text transform="translate(457.37 917.63) rotate(275.76) scale(1.05 1)" x="-27.86" y="6.28">900</text>
<text transform="translate(448.5 916.64) rotate(276.98) scale(1.05 1)" x="-37.43" y="6.28">1000</text>
<text transform="translate(439.65 915.46) rotate(278.19) scale(1.05 1)" x="-37.43" y="6.28">1100</text>
<text transform="translate(430.83 914.1) rotate(279.41) scale(1.05 1)" x="-37.43" y="6.28">1200</text>
<text transform="translate(422.04 912.55) rotate(280.63) scale(1.05 1)" x="-37.43" y="6.28">1300</text>
<text transform="translate(413.29 910.81) rotate(281.85) scale(1.05 1)" x="-37.43" y="6.28">1400</text>
<text transform="translate(404.57 908.88) rotate(283.06) scale(1.05 1)" x="-37.43" y="6.28">1500</text>
<text transform="translate(378.69 902) rotate(286.72) scale(1.05 1)" x="-27.86" y="6.28">100</text>
<text transform="translate(357.11 894.88) rotate(289.82) scale(1.05 1)" x="-27.86" y="6.28">100</text>
<text transform="translate(348.75 891.76) rotate(291.03) scale(1.05 1)" x="-27.86" y="6.28">200</text>
<text transform="translate(323.88 881.27) rotate(294.72) scale(1.05 1)" x="-27.86" y="6.28">100</text>
<text transform="translate(315.81 877.45) rotate(295.94) scale(1.05 1)" x="-27.86" y="6.28">200</text>
<text transform="translate(307.83 873.46) rotate(297.15) scale(1.05 1)" x="-27.86" y="6.28">300</text>
<text transform="translate(299.93 869.31) rotate(298.37) scale(1.05 1)" x="-27.86" y="6.28">400</text>
<text transform="translate(292.12 864.98) rotate(299.59) scale(1.05 1)" x="-27.86" y="6.28">500</text>
<text transform="translate(284.41 860.49) rotate(300.81) scale(1.05 1)" x="-27.86" y="6.28">600</text>
<text transform="translate(276.79 855.84) rotate(302.02) scale(1.05 1)" x="-27.86" y="6.28">700</text>
<text transform="translate(269.28 851.03) rotate(303.24) scale(1.05 1)" x="-27.86" y="6.28">800</text>
<text transform="translate(261.87 846.06) rotate(304.46) scale(1.05 1)" x="-27.86" y="6.28">900</text>
<text transform="translate(239.67 829.73) rotate(308.22) scale(1.05 1)" x="-27.86" y="6.28">100</text>
<text transform="translate(232.71 824.14) rotate(309.44) scale(1.05 1)" x="-27.86" y="6.28">200</text>
<text transform="translate(225.88 818.39) rotate(310.65) scale(1.05 1)" x="-27.86" y="6.28">300</text>
<text transform="translate(219.17 812.51) rotate(311.87) scale(1.05 1)" x="-27.86" y="6.28">400</text>
<text transform="translate(212.59 806.48) rotate(313.09) scale(1.05 1)" x="-27.86" y="6.28">500</text>
<text transform="translate(206.14 800.32) rotate(314.31) scale(1.05 1)" x="-27.86" y="6.28">600</text>
<text transform="translate(199.82 794.01) rotate(315.52) scale(1.05 1)" x="-27.86" y="6.28">700</text>
<text transform="translate(193.63 787.58) rotate(316.74) scale(1.05 1)" x="-27.86" y="6.28">800</text>
<text transform="translate(187.59 781.02) rotate(317.96) scale(1.05 1)" x="-27.86" y="6.28">900</text>
<text transform="translate(181.68 774.33) rotate(319.18) scale(1.05 1)" x="-37.43" y="6.28">1000</text>
<text transform="translate(175.92 767.51) rotate(320.39) scale(1.05 1)" x="-37.43" y="6.28">1100</text>
<text transform="translate(170.3 760.57) rotate(321.61) scale(1.05 1)" x="-37.43" y="6.28">1200</text>
<text transform="translate(164.84 753.52) rotate(322.83) scale(1.05 1)" x="-37.43" y="6.28">1300</text>
<text transform="translate(159.52 746.35) rotate(324.05) scale(1.05 1)" x="-37.43" y="6.28">1400</text>
<text transform="translate(154.36 739.07) rotate(325.26) scale(1.05 1)" x="-37.43" y="6.28">1500</text>
<text transform="translate(149.35 731.69) rotate(326.48) scale(1.05 1)" x="-37.43" y="6.28">1600</text>
<text transform="translate(144.5 724.19) rotate(327.7) scale(1.05 1)" x="-37.43" y="6.28">1700</text>
<text transform="translate(139.81 716.6) rotate(328.91) scale(1.05 1)" x="-37.43" y="6.28">1800</text>
<text transform="translate(135.28 708.91) rotate(330.13) scale(1.05 1)" x="-37.43" y="6.28">1900</text>
<text transform="translate(130.92 701.12) rotate(331.35) scale(1.05 1)" x="-37.43" y="6.28">2000</text>
<text transform="translate(126.73 693.25) rotate(332.57) scale(1.05 1)" x="-37.43" y="6.28">2100</text>
<text transform="translate(122.7 685.28) rotate(333.78) scale(1.05 1)" x="-37.43" y="6.28">2200</text>
<text transform="translate(118.84 677.23) rotate(335) scale(1.05 1)" x="-37.43" y="6.28">2300</text>
<text transform="translate(115.16 669.1) rotate(336.22) scale(1.05 1)" x="-37.43" y="6.28">2400</text>
<text transform="translate(103.79 640.52) rotate(340.42) scale(1.05 1)" x="-27.86" y="6.28">100</text>
<text transform="translate(100.89 632.08) rotate(341.63) scale(1.05 1)" x="-27.86" y="6.28">200</text>
<text transform="translate(98.17 623.58) rotate(342.85) scale(1.05 1)" x="-27.86" y="6.28">300</text>
<text transform="translate(95.63 615.02) rotate(344.07) scale(1.05 1)" x="-27.86" y="6.28">400</text>
<text transform="translate(93.27 606.42) rotate(345.29) scale(1.05 1)" x="-27.86" y="6.28">500</text>
<text transform="translate(86.78 577.6) rotate(349.32) scale(1.05 1)" x="-27.86" y="6.28">100</text>
<text transform="translate(85.22 568.82) rotate(350.54) scale(1.05 1)" x="-27.86" y="6.28">200</text>
<text transform="translate(83.84 560) rotate(351.75) scale(1.05 1)" x="-27.86" y="6.28">300</text>
<text transform="translate(82.66 551.15) rotate(352.97) scale(1.05 1)" x="-27.86" y="6.28">400</text>
<text transform="translate(81.66 542.28) rotate(354.19) scale(1.05 1)" x="-27.86" y="6.28">500</text>
<text transform="translate(80.85 533.4) rotate(355.41) scale(1.05 1)" x="-27.86" y="6.28">600</text>
<text transform="translate(80.23 524.49) rotate(356.62) scale(1.05 1)" x="-27.86" y="6.28">700</text>
<text transform="translate(79.5 499.99) rotate(359.97) scale(1.05 1)" x="-27.86" y="6.28">100</text>
<text transform="translate(79.59 491.06) rotate(361.19) scale(1.05 1)" x="-27.86" y="6.28">200</text>
<text transform="translate(79.87 482.14) rotate(362.4) scale(1.05 1)" x="-27.86" y="6.28">300</text>
<text transform="translate(80.34 473.23) rotate(363.62) scale(1.05 1)" x="-27.86" y="6.28">400</text>
<text transform="translate(81 464.33) rotate(364.84) scale(1.05 1)" x="-27.86" y="6.28">500</text>
<text transform="translate(81.84 455.45) rotate(366.06) scale(1.05 1)" x="-27.86" y="6.28">600</text>
<text transform="translate(82.88 446.58) rotate(367.27) scale(1.05 1)" x="-27.86" y="6.28">700</text>
<text transform="translate(87.38 418.76) rotate(371.12) scale(1.05 1)" x="-27.86" y="6.28">100</text>
<text transform="translate(89.2 410.03) rotate(372.33) scale(1.05 1)" x="-27.86" y="6.28">200</text>
<text transform="translate(91.19 401.33) rotate(373.55) scale(1.05 1)" x="-27.86" y="6.28">300</text>
<text transform="translate(93.38 392.68) rotate(374.77) scale(1.05 1)" x="-27.86" y="6.28">400</text>
<text transform="translate(95.74 384.07) rotate(375.99) scale(1.05 1)" x="-27.86" y="6.28">500</text>
<text transform="translate(98.29 375.52) rotate(377.2) scale(1.05 1)" x="-27.86" y="6.28">600</text>
<text transform="translate(101.02 367.02) rotate(378.42) scale(1.05 1)" x="-27.86" y="6.28">700</text>
<text transform="translate(108.64 346.04) rotate(381.47) scale(1.05 1)" x="-27.86" y="6.28">100</text>
<text transform="translate(111.99 337.77) rotate(382.69) scale(1.05 1)" x="-27.86" y="6.28">200</text>
<text transform="translate(115.52 329.57) rotate(383.9) scale(1.05 1)" x="-27.86" y="6.28">300</text>
<text transform="translate(119.22 321.45) rotate(385.12) scale(1.05 1)" x="-27.86" y="6.28">400</text>
<text transform="translate(123.1 313.41) rotate(386.34) scale(1.05 1)" x="-27.86" y="6.28">500</text>
<text transform="translate(127.14 305.46) rotate(387.56) scale(1.05 1)" x="-27.86" y="6.28">600</text>
<text transform="translate(131.35 297.59) rotate(388.77) scale(1.05 1)" x="-27.86" y="6.28">700</text>
<text transform="translate(135.73 289.81) rotate(389.99) scale(1.05 1)" x="-27.86" y="6.28">800</text>
<text transform="translate(151.17 265.09) rotate(393.97) scale(1.05 1)" x="-27.86" y="6.28">100</text>
<text transform="translate(156.24 257.74) rotate(395.19) scale(1.05 1)" x="-27.86" y="6.28">200</text>
<text transform="translate(161.46 250.5) rotate(396.4) scale(1.05 1)" x="-27.86" y="6.28">300</text>
<text transform="translate(166.83 243.37) rotate(397.62) scale(1.05 1)" x="-27.86" y="6.28">400</text>
<text transform="translate(180.21 226.88) rotate(400.52) scale(1.05 1)" x="-27.86" y="6.28">100</text>
<text transform="translate(186.08 220.16) rotate(401.74) scale(1.05 1)" x="-27.86" y="6.28">200</text>
<text transform="translate(192.09 213.57) rotate(402.95) scale(1.05 1)" x="-27.86" y="6.28">300</text>
<text transform="translate(198.24 207.1) rotate(404.17) scale(1.05 1)" x="-27.86" y="6.28">400</text>
<text transform="translate(204.53 200.76) rotate(405.39) scale(1.05 1)" x="-27.86" y="6.28">500</text>
<text transform="translate(210.95 194.56) rotate(406.61) scale(1.05 1)" x="-27.86" y="6.28">600</text>
<text transform="translate(217.5 188.5) rotate(407.82) scale(1.05 1)" x="-27.86" y="6.28">700</text>
<text transform="translate(224.18 182.58) rotate(409.04) scale(1.05 1)" x="-27.86" y="6.28">800</text>
<text transform="translate(230.98 176.8) rotate(410.26) scale(1.05 1)" x="-27.86" y="6.28">900</text>
<text transform="translate(252.14 160.32) rotate(413.92) scale(1.05 1)" x="-27.86" y="6.28">100</text>
<text transform="translate(259.41 155.14) rotate(415.13) scale(1.05 1)" x="-27.86" y="6.28">200</text>
<text transform="translate(266.79 150.12) rotate(416.35) scale(1.05 1)" x="-27.86" y="6.28">300</text>
<text transform="translate(274.27 145.25) rotate(417.57) scale(1.05 1)" x="-27.86" y="6.28">400</text>
<text transform="translate(281.85 140.54) rotate(418.79) scale(1.05 1)" x="-27.86" y="6.28">500</text>
<text transform="translate(304.7 127.65) rotate(422.37) scale(1.05 1)" x="-27.86" y="6.28">100</text>
<text transform="translate(312.65 123.6) rotate(423.58) scale(1.05 1)" x="-27.86" y="6.28">200</text>
<text transform="translate(320.69 119.71) rotate(424.8) scale(1.05 1)" x="-27.86" y="6.28">300</text>
<text transform="translate(328.8 116) rotate(426.02) scale(1.05 1)" x="-27.86" y="6.28">400</text>
<text transform="translate(337 112.46) rotate(427.24) scale(1.05 1)" x="-27.86" y="6.28">500</text>
<text transform="translate(345.26 109.1) rotate(428.45) scale(1.05 1)" x="-27.86" y="6.28">600</text>
<text transform="translate(353.6 105.91) rotate(429.67) scale(1.05 1)" x="-27.86" y="6.28">700</text>
<text transform="translate(362 102.9) rotate(430.89) scale(1.05 1)" x="-27.86" y="6.28">800</text>
<text transform="translate(370.46 100.06) rotate(432.11) scale(1.05 1)" x="-27.86" y="6.28">900</text>
<text transform="translate(378.98 97.41) rotate(433.32) scale(1.05 1)" x="-37.43" y="6.28">1000</text>
<text transform="translate(387.56 94.94) rotate(434.54) scale(1.05 1)" x="-37.43" y="6.28">1100</text>
<text transform="translate(396.19 92.65) rotate(435.76) scale(1.05 1)" x="-37.43" y="6.28">1200</text>
<text transform="translate(404.86 90.55) rotate(436.98) scale(1.05 1)" x="-37.43" y="6.28">1300</text>
<text transform="translate(431.75 85.25) rotate(440.72) scale(1.05 1)" x="-27.86" y="6.28">100</text>
<text transform="translate(440.58 83.9) rotate(441.94) scale(1.05 1)" x="-27.86" y="6.28">200</text>
<text transform="translate(449.42 82.75) rotate(443.15) scale(1.05 1)" x="-27.86" y="6.28">300</text>
<text transform="translate(458.3 81.78) rotate(444.37) scale(1.05 1)" x="-27.86" y="6.28">400</text>
<text transform="translate(467.19 80.99) rotate(445.59) scale(1.05 1)" x="-27.86" y="6.28">500</text>
<text transform="translate(476.09 80.4) rotate(446.81) scale(1.05 1)" x="-27.86" y="6.28">600</text>
<text transform="translate(485.01 80) rotate(448.02) scale(1.05 1)" x="-27.86" y="6.28">700</text>
</g>
<g class="t" font-family="'DejaVu Sans Light','DejaVu Sans','Liberation Sans',sans-serif" font-weight="200" font-size="10.3" fill="#111" stroke="#111" stroke-width="0.28" text-anchor="middle">
<text transform="translate(547.59 40.26) rotate(5.98)" dy="0.365em">TcBrA4_Chr15</text>
<text transform="translate(652.2 63.71) rotate(19.3)" dy="0.365em">TcDm25_Chr15_H1</text>
<text transform="translate(745.52 108.7) rotate(32.17)" dy="0.365em">TcDm25_Chr15_H2_c1</text>
<text transform="translate(798.32 147.4) rotate(40.3)" dy="0.365em">TcDm25_Chr15_H2_c2</text>
<text transform="translate(868.83 222.19) rotate(53.08)" dy="0.365em">TcDm25_Chr06_H1</text>
<text transform="translate(919.48 307.25) rotate(65.38)" dy="0.365em">TcDm25_Chr06_H2_c1</text>
<text transform="translate(945.97 380.95) rotate(75.1)" dy="0.365em">TcDm25_Chr17_H1</text>
<text transform="translate(961.47 504.99) rotate(270.65)" dy="0.365em">TcDm25_Chr11_H1_c1</text>
<text transform="translate(954.27 581.17) rotate(280.15)" dy="0.365em">TcDm25_Chr11_H2_c1</text>
<text transform="translate(940.96 635.98) rotate(287.15)" dy="0.365em">TcDm25_Chr23_H1</text>
<text transform="translate(860.44 788.14) rotate(308.62)" dy="0.365em">TcDm25_Chr30_H2_c1</text>
<text transform="translate(684.83 922.95) rotate(336.35)" dy="0.365em">TcDm25_Chr31_H1_c1</text>
<text transform="translate(574.96 955.55) rotate(350.6)" dy="0.365em">TcDm25_Chr20_H2_c1</text>
<text transform="translate(464.66 960.43) rotate(364.32)" dy="0.365em">TcDm25_Chr06_H2_c2</text>
<text transform="translate(369.83 943.18) rotate(376.3)" dy="0.365em">TcDm25_Chr22_H2_c2</text>
<text transform="translate(339.59 933.19) rotate(380.25)" dy="0.365em">TcDm25_Chr22_H1_c2</text>
<text transform="translate(272.53 902.15) rotate(389.43)" dy="0.365em">TcDm25_Chr17_H2_c1</text>
<text transform="translate(134.45 782.91) rotate(412.2)" dy="0.365em">TcDm25_Chr30_H1_c1</text>
<text transform="translate(58.28 636.75) rotate(432.75)" dy="0.365em">TcDm25_Chr26_H2_c1</text>
<text transform="translate(41.3 558.85) rotate(442.65)" dy="0.365em">TcDm25_Chr01_H1</text>
<text transform="translate(38.37 471.34) rotate(273.52)" dy="0.365em">TcDm25_Chr26_H1</text>
<text transform="translate(51.76 385.83) rotate(284.27)" dy="0.365em">TcDm25_Chr25_H1</text>
<text transform="translate(83.29 299.22) rotate(295.73)" dy="0.365em">TcDm25_Chr24_H1_c1</text>
<text transform="translate(122.1 233.27) rotate(305.23)" dy="0.365em">TcDm25_Chr32_H2_c1</text>
<text transform="translate(173.96 171.93) rotate(315.2)" dy="0.365em">TcDm25_Chr19_H1</text>
<text transform="translate(242.49 115.84) rotate(326.2)" dy="0.365em">TcDm25_Chr29_H1</text>
<text transform="translate(337.7 67.01) rotate(339.5)" dy="0.365em">TcDm25_Chr09_H1</text>
<text transform="translate(450.81 40.32) rotate(353.95)" dy="0.365em">TcDm25_Chr09_H2_c5</text>
</g>
</svg>
</body></html>
